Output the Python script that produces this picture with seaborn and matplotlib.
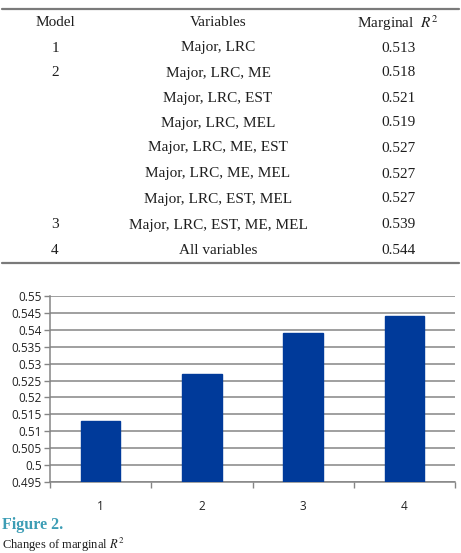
import matplotlib
matplotlib.use("Agg")
import matplotlib.pyplot as plt
import seaborn as sns
import pandas as pd
from matplotlib.lines import Line2D
from matplotlib.ticker import FixedLocator, FuncFormatter

# ---- data ----
table_models = ["1", "2", "", "", "", "", "", "3", "4"]
table_vars = ["Major, LRC", "Major, LRC, ME", "Major, LRC, EST", "Major, LRC, MEL",
              "Major, LRC, ME, EST", "Major, LRC, ME, MEL", "Major, LRC, EST, MEL",
              "Major, LRC, EST, ME, MEL", "All variables"]
table_r2 = ["0.513", "0.518", "0.521", "0.519", "0.527", "0.527", "0.527", "0.539", "0.544"]

bar_models = ["1", "2", "3", "4"]
bar_r2 = [0.513, 0.527, 0.539, 0.544]
y_ticks = [0.495, 0.5, 0.505, 0.51, 0.515, 0.52, 0.525, 0.53, 0.535, 0.54, 0.545, 0.55]

sns.set_theme(style="white")
plt.rcParams['font.family'] = ['DejaVu Sans']
plt.rcParams['mathtext.fontset'] = 'stix'

W, H = 461, 553
fig = plt.figure(figsize=(W / 100, H / 100), dpi=100)
fig.patch.set_facecolor("white")

def fx(x):
    return x / W

def fy(y):
    return 1 - y / H

serif = ['Liberation Serif', 'DejaVu Serif']
tsize = 11
tcol = "#1e1e1e"

# table lines
for yy in (9, 263):
    fig.add_artist(Line2D([fx(2), fx(459)], [fy(yy), fy(yy)], color="#7a7a7a", lw=1.6,
                          transform=fig.transFigure))

# header
hy = 23
fig.text(fx(55), fy(hy), "Model", ha="center", va="center", family=serif, size=tsize, color=tcol)
fig.text(fx(218), fy(hy), "Variables", ha="center", va="center", family=serif, size=tsize, color=tcol)
fig.text(fx(398), fy(hy), "Marginal  $R^2$", ha="center", va="center", family=serif, size=tsize, color=tcol)

row_y = [48, 73, 98, 123, 148, 174, 199, 225, 250]
for yy, m, v, r in zip(row_y, table_models, table_vars, table_r2):
    if m:
        fig.text(fx(55), fy(yy), m, ha="center", va="center", family=serif, size=tsize, color=tcol)
    fig.text(fx(218), fy(yy), v, ha="center", va="center", family=serif, size=tsize, color=tcol)
    fig.text(fx(398), fy(yy), r, ha="center", va="center", family=serif, size=tsize, color=tcol)

# chart
ax = fig.add_axes([fx(50), 71 / H, (455 - 50) / W, (482 - 296) / H])
df = pd.DataFrame({"model": bar_models, "r2": bar_r2})
sns.barplot(data=df, x="model", y="r2", ax=ax, color="#003A9A", saturation=1, width=0.39,
            edgecolor="#003A9A", zorder=3)
ax.set_ylim(y_ticks[0], y_ticks[-1])
ax.set_xlim(-0.5, len(bar_models) - 0.5)
ax.yaxis.set_major_locator(FixedLocator(y_ticks))
ax.yaxis.set_major_formatter(FuncFormatter(lambda v, p: f"{v:g}"))
ax.yaxis.grid(True, color="#858585", lw=1.1, zorder=0)
ax.set_axisbelow(True)
ax.set_xlabel("")
ax.set_ylabel("")
for s in ("top", "right"):
    ax.spines[s].set_visible(False)
for s in ("left", "bottom"):
    ax.spines[s].set_color("#858585")
    ax.spines[s].set_linewidth(1.1)
ax.set_xticks([i - 0.5 for i in range(len(bar_models) + 1)], minor=True)
ax.tick_params(axis="x", which="minor", length=4, color="#858585", width=1, direction="out", bottom=True)
ax.tick_params(axis="x", which="major", length=0, pad=13, labelsize=8.5, labelcolor="#222222")
ax.tick_params(axis="y", which="major", length=4, color="#858585", width=1, direction="out", left=True,
               labelsize=8.5, labelcolor="#222222", pad=2)
for lab in ax.get_xticklabels() + ax.get_yticklabels():
    lab.set_family(['Open Sans', 'DejaVu Sans'])

# caption
fig.text(fx(2), fy(525), "Figure 2.", ha="left", va="center", family=serif, size=11.5,
         weight="bold", color="#3C9DB5")
fig.text(fx(2), fy(549), "Changes of marginal $R^2$", ha="left", va="baseline", family=serif, size=9,
         color=tcol)

fig.savefig("out.png", dpi=100, facecolor="white")
